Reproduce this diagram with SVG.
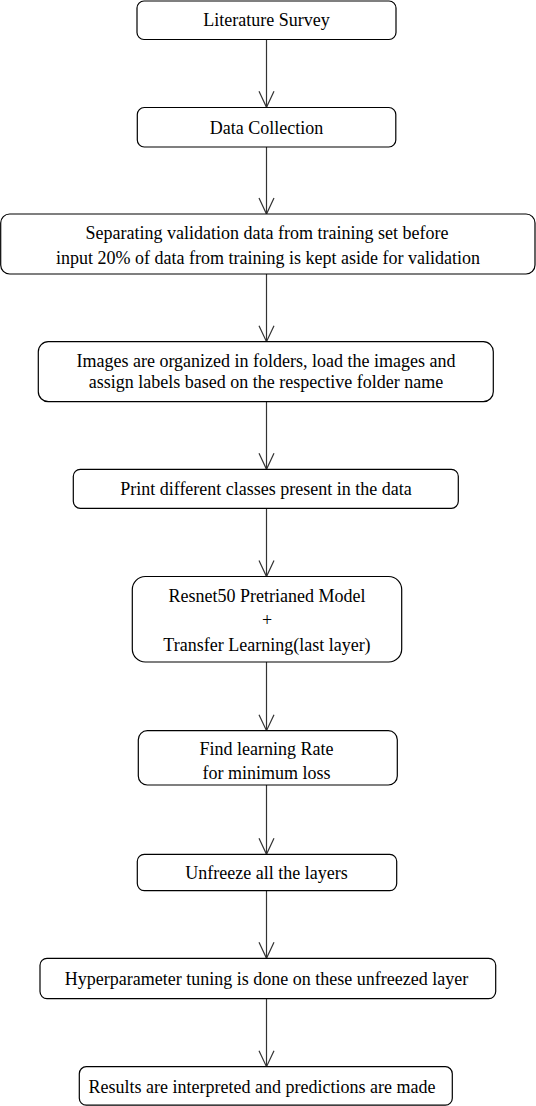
<svg xmlns="http://www.w3.org/2000/svg" width="536" height="1106" viewBox="0 0 536 1106">
<style>
.box{fill:#fff;stroke:#000;stroke-width:1.2}
.lbl{font-size:18px;fill:#000;text-anchor:middle}
.edge{stroke:#333;stroke-width:1.2;fill:none}
</style>
<defs>
<marker id="arr" markerUnits="userSpaceOnUse" markerWidth="20" markerHeight="20" refX="0" refY="0" orient="auto" overflow="visible">
<path d="M-16,-7.5 L0,0 L-16,7.5" fill="none" stroke="#333" stroke-width="1.2"/>
</marker>
</defs>
<rect width="536" height="1106" fill="#fff"/>
<g id="connectors">
<line class="edge" x1="266.5" y1="39.5" x2="266.5" y2="107.3" marker-end="url(#arr)"/>
<line class="edge" x1="266.5" y1="147" x2="266.5" y2="214" marker-end="url(#arr)"/>
<line class="edge" x1="266.5" y1="274" x2="266.5" y2="341.7" marker-end="url(#arr)"/>
<line class="edge" x1="266.5" y1="401.7" x2="266.5" y2="469.3" marker-end="url(#arr)"/>
<line class="edge" x1="266.5" y1="508.3" x2="266.5" y2="576.5" marker-end="url(#arr)"/>
<line class="edge" x1="266.5" y1="662" x2="266.5" y2="730.7" marker-end="url(#arr)"/>
<line class="edge" x1="266.5" y1="785" x2="266.5" y2="854.3" marker-end="url(#arr)"/>
<line class="edge" x1="266.5" y1="890.5" x2="266.5" y2="958.3" marker-end="url(#arr)"/>
<line class="edge" x1="266.5" y1="998.5" x2="266.5" y2="1066.7" marker-end="url(#arr)"/>
</g>
<g font-family="'Liberation Serif', 'Times New Roman', Times, 'DejaVu Serif', serif">
<g id="n1">
<rect class="box" x="137" y="1" width="259" height="38.5" rx="7"/>
<text class="lbl" x="266.5" y="26">Literature Survey</text>
</g>
<g id="n2">
<rect class="box" x="137.3" y="107.5" width="258.5" height="39.5" rx="7"/>
<text class="lbl" x="266.5" y="133.5">Data Collection</text>
</g>
<g id="n3">
<rect class="box" x="0.7" y="214" width="534.3" height="60" rx="9"/>
<text class="lbl" x="267" y="238.5">Separating validation data from training set before</text>
<text class="lbl" x="268" y="264">input 20% of data from training is kept aside for validation</text>
</g>
<g id="n4">
<rect class="box" x="38.3" y="341.7" width="455" height="60" rx="10"/>
<text class="lbl" x="266" y="367">Images are organized in folders, load the images and</text>
<text class="lbl" x="266" y="388">assign labels based on the respective folder name</text>
</g>
<g id="n5">
<rect class="box" x="73.3" y="469.3" width="385" height="39" rx="7"/>
<text class="lbl" x="266" y="495">Print different classes present in the data</text>
</g>
<g id="n6">
<rect class="box" x="132.3" y="576.5" width="269.4" height="85.5" rx="13"/>
<text class="lbl" x="267" y="602">Resnet50 Pretrianed Model</text>
<text class="lbl" x="267" y="626">+</text>
<text class="lbl" x="267" y="650.5">Transfer Learning(last layer)</text>
</g>
<g id="n7">
<rect class="box" x="138.3" y="730.7" width="259" height="54.3" rx="9"/>
<text class="lbl" x="266.5" y="755">Find learning Rate</text>
<text class="lbl" x="266.5" y="778.5">for minimum loss</text>
</g>
<g id="n8">
<rect class="box" x="137.3" y="854.3" width="259.4" height="36.3" rx="7"/>
<text class="lbl" x="266.5" y="878.5">Unfreeze all the layers</text>
</g>
<g id="n9">
<rect class="box" x="40" y="958.3" width="455.7" height="40.3" rx="7"/>
<text class="lbl" x="266.5" y="984.5">Hyperparameter tuning is done on these unfreezed layer</text>
</g>
<g id="n10">
<rect class="box" x="79.3" y="1066.7" width="373" height="38.5" rx="7"/>
<text class="lbl" x="262" y="1092.5">Results are interpreted and predictions are made</text>
</g>
</g>
</svg>
